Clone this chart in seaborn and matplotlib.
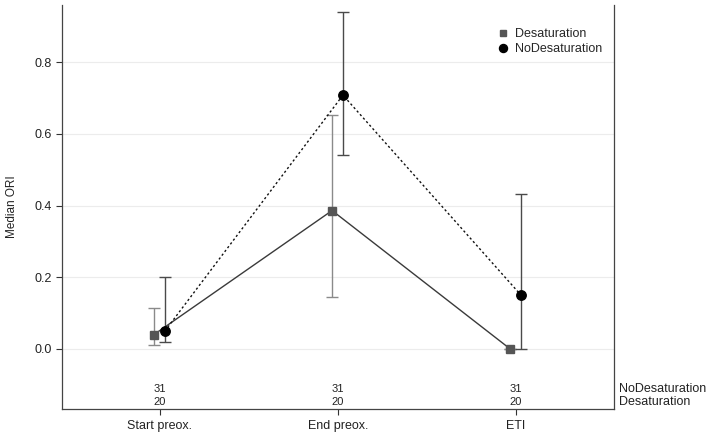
import matplotlib
matplotlib.use("Agg")
import matplotlib.pyplot as plt
import seaborn as sns
import numpy as np
import pandas as pd

categories = ["Start preox.", "End preox.", "ETI"]
groups = ["Desaturation", "NoDesaturation"]
desat_median = [0.04, 0.386, 0.0]
desat_low = [0.01, 0.145, 0.0]
desat_high = [0.115, 0.652, 0.0]
nodesat_median = [0.05, 0.708, 0.15]
nodesat_low = [0.018, 0.542, 0.0]
nodesat_high = [0.2, 0.94, 0.432]
n_nodesat = [31, 31, 31]
n_desat = [20, 20, 20]

sns.set_theme(style="white")
plt.rcParams["font.family"] = ["Liberation Sans", "DejaVu Sans"]

fig = plt.figure(figsize=(7.13, 4.38), dpi=100)
ax = fig.add_axes([0.087, 0.066, 0.774, 0.923])

offsets = {"Desaturation": -0.033, "NoDesaturation": 0.028}
rows = []
for g, med, lo, hi in [("Desaturation", desat_median, desat_low, desat_high),
                       ("NoDesaturation", nodesat_median, nodesat_low, nodesat_high)]:
    for i, c in enumerate(categories):
        rows.append(dict(group=g, cat=c, x=i + offsets[g], median=med[i], low=lo[i], high=hi[i]))
df = pd.DataFrame(rows)

styles = {
    "Desaturation": dict(line="#3a3a3a", ls="-", marker="s", mc="#555555", ms=5.5, ec="#8a8a8a"),
    "NoDesaturation": dict(line="#111111", ls=(0, (1.6, 1.8)), marker="o", mc="#000000", ms=6.8, ec="#4a4a4a"),
}

for g in groups:
    sub = df[df.group == g]
    st = styles[g]
    ax.errorbar(sub.x, sub["median"],
                yerr=[sub["median"] - sub.low, sub.high - sub["median"]],
                fmt="none", ecolor=st["ec"], elinewidth=1.0, capsize=4.5, capthick=1.0, zorder=2)
    sns.lineplot(data=sub, x="x", y="median", ax=ax, color=st["line"], linewidth=1.0,
                 sort=False, legend=False, zorder=3)
    ax.lines[-1].set_linestyle(st["ls"])
    ax.plot(sub.x, sub["median"], linestyle="none", marker=st["marker"], markersize=st["ms"],
            color=st["mc"], zorder=4, label=g)

ax.set_xlim(-0.55, 2.55)
ax.set_ylim(-0.168, 0.96)
ax.set_yticks([0.0, 0.2, 0.4, 0.6, 0.8])
ax.set_yticklabels(["0.0", "0.2", "0.4", "0.6", "0.8"])
ax.set_xticks(range(len(categories)))
ax.set_xticklabels(categories)
for y in [0.0, 0.2, 0.4, 0.6, 0.8]:
    ax.axhline(y, color="#ececec", linewidth=0.8, zorder=0)

ax.tick_params(axis="both", which="both", direction="out", length=4, width=0.8,
               colors="#333333", labelsize=9, labelcolor="#222222", left=True, bottom=True)
ax.set_ylabel("Median ORI", fontsize=8.5, color="#222222", labelpad=12)
ax.set_xlabel("")

for side in ["left", "bottom", "right"]:
    ax.spines[side].set_visible(True)
    ax.spines[side].set_color("#444444")
    ax.spines[side].set_linewidth(0.9)
ax.spines["top"].set_visible(False)

for i in range(len(categories)):
    ax.text(i, -0.112, str(n_nodesat[i]), ha="center", va="center", fontsize=8, color="#222222")
    ax.text(i, -0.148, str(n_desat[i]), ha="center", va="center", fontsize=8, color="#222222")
ax.text(1.01, -0.112, "NoDesaturation", ha="left", va="center", fontsize=9, color="#222222",
        transform=ax.get_yaxis_transform())
ax.text(1.01, -0.148, "Desaturation", ha="left", va="center", fontsize=9, color="#222222",
        transform=ax.get_yaxis_transform())

leg = ax.legend(loc="upper right", bbox_to_anchor=(1.0, 0.97), frameon=False, fontsize=9,
                handletextpad=0.4, handlelength=1.2, labelspacing=0.25, markerscale=0.85)

fig.savefig("out.png", dpi=100)
